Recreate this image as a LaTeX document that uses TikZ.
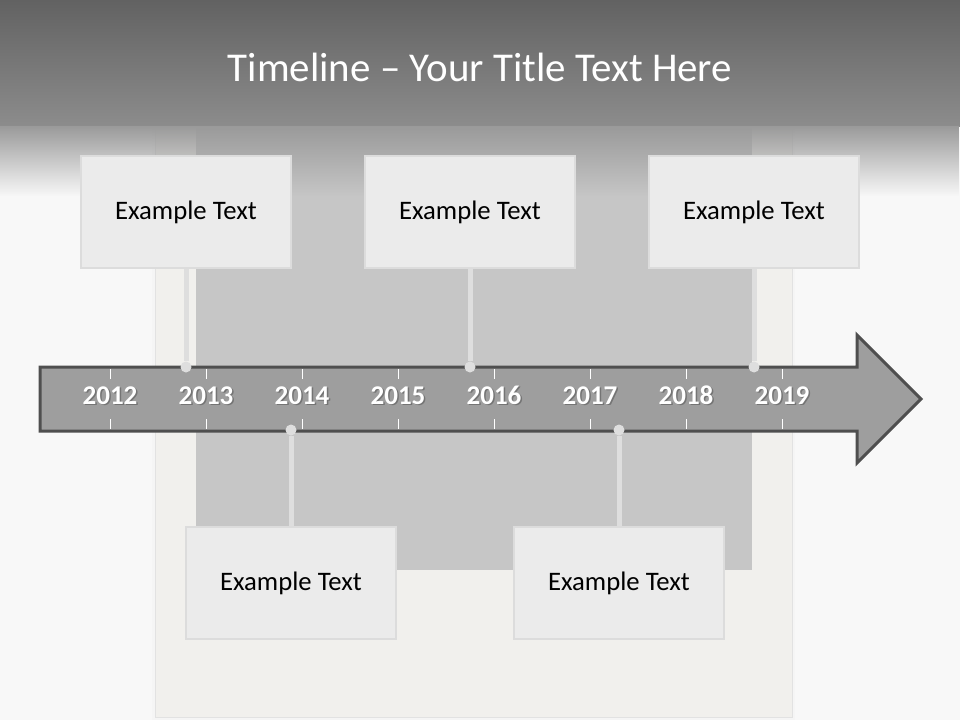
\documentclass[tikz,border=0pt]{standalone}
\usepackage{fontspec}
\setmainfont{Carlito}
\usetikzlibrary{fadings}

\definecolor{pagebg}{HTML}{F8F8F8}
\definecolor{headtop}{HTML}{626262}
\definecolor{headbot}{HTML}{8C8C8C}
\definecolor{fadegray}{HTML}{9A9A9A}
\definecolor{framefill}{HTML}{F1F0ED}
\definecolor{frameline}{HTML}{E2E2E2}
\definecolor{innerfill}{HTML}{C6C6C6}
\definecolor{arrowfill}{HTML}{9E9E9E}
\definecolor{arrowline}{HTML}{4F4F4F}
\definecolor{boxfill}{HTML}{EBEBEB}
\definecolor{boxline}{HTML}{DCDCDC}
\definecolor{pinfill}{HTML}{DEDEDE}

\tikzset{
  textbox/.style={draw=boxline,line width=0.04cm,fill=boxfill,
    minimum width=4.22cm,minimum height=2.24cm,
    font=\fontsize{15.2}{18}\selectfont},
  pin/.style={circle,fill=pinfill,inner sep=0pt,minimum size=0.22cm},
  stem/.style={draw=pinfill,line width=0.1cm},
  year/.style={text=white,anchor=base,font=\bfseries\fontsize{15.4}{18}\selectfont},
}

\begin{document}
\begin{tikzpicture}[x=0.02cm,y=-0.02cm]
  \useasboundingbox (0,0) rectangle (960,720);
  \fill[pagebg] (0,0) rectangle (960,720);
  % photo frame behind the timeline
  \fill[black!4] (152,128) rectangle (795,720);
  \fill[framefill,draw=frameline,line width=0.02cm] (155,128) rectangle (792,717);
  \fill[innerfill] (196,128) rectangle (752,570);
  % header band
  \shade[top color=headtop,bottom color=headbot] (0,0) rectangle (960,126);
  \fill[fadegray,path fading=south] (0,126) rectangle (960,196);
  \node[text=white,font=\fontsize{23.3}{27}\selectfont] (title) at (480,67)
    {Timeline – Your Title Text Here};
  % arrow
  \draw[draw=arrowline,fill=arrowfill,line width=0.06cm,line join=miter]
    (40,367) -- (857,367) -- (857,335) -- (921,399) -- (857,463)
    -- (857,431) -- (40,431) -- cycle;
  \foreach \yr [count=\i from 0] in {2012,...,2019} {
    \draw[white,line width=0.02cm] ({110+96*\i},369) -- ++(0,10);
    \draw[white,line width=0.02cm] ({110+96*\i},419) -- ++(0,10);
    \node[year,text=black!70,opacity=.5] at ({111.5+96*\i},405.5) {\yr};
    \node[year] (y\yr) at ({110+96*\i},404) {\yr};
  }
  % boxes above
  \node[textbox] (t1) at (186,212) {Example Text};
  \node[textbox] (t2) at (470,212) {Example Text};
  \node[textbox] (t3) at (754,212) {Example Text};
  % boxes below
  \node[textbox] (b1) at (291,583) {Example Text};
  \node[textbox] (b2) at (619,583) {Example Text};
  % pins on the arrow
  \node[pin] (p1) at (186,367) {};
  \node[pin] (p2) at (470,367) {};
  \node[pin] (p3) at (754,367) {};
  \node[pin] (q1) at (291,430) {};
  \node[pin] (q2) at (619,430) {};
  \draw[stem] (t1) -- (p1);
  \draw[stem] (t2) -- (p2);
  \draw[stem] (t3) -- (p3);
  \draw[stem] (b1) -- (q1);
  \draw[stem] (b2) -- (q2);
\end{tikzpicture}
\end{document}
